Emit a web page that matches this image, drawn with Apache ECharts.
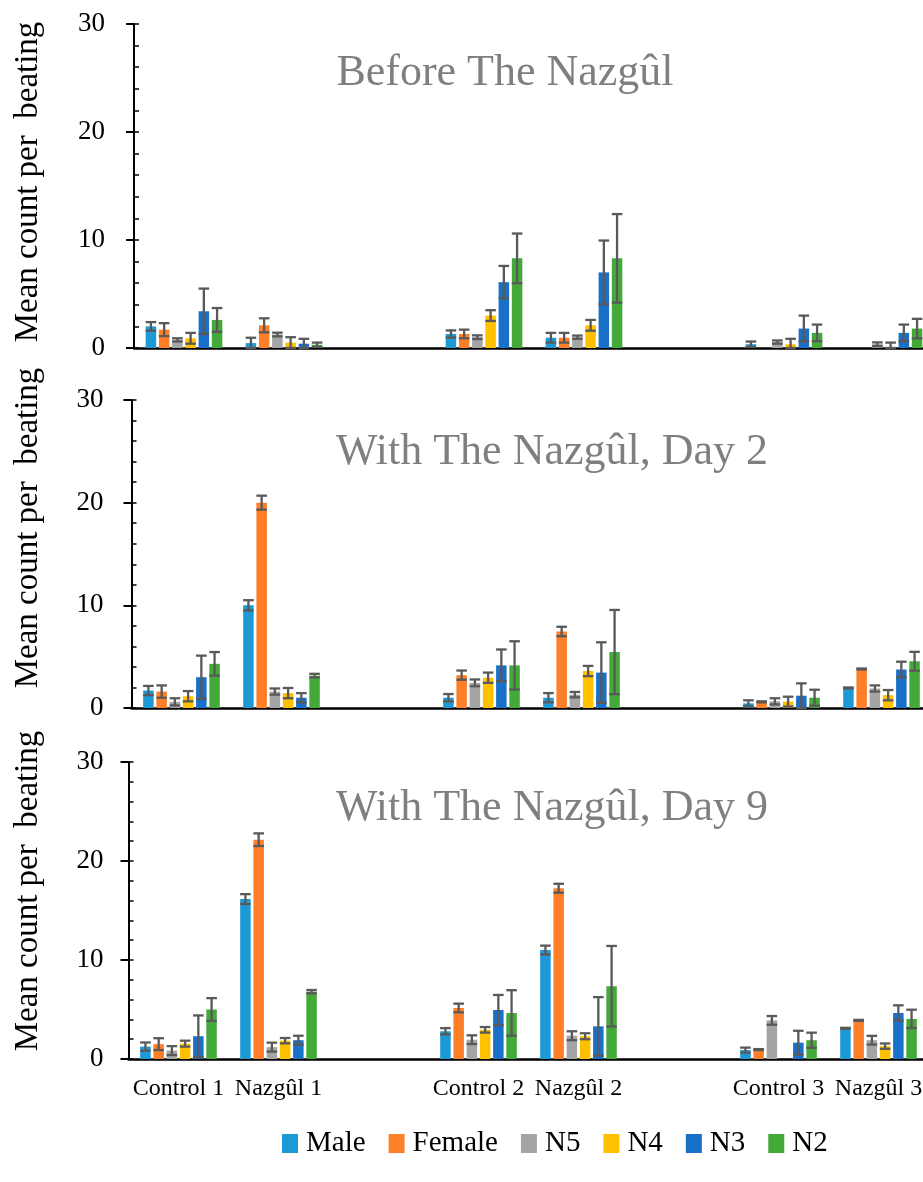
<!DOCTYPE html>
<html><head><meta charset="utf-8">
<script src="https://cdn.jsdelivr.net/npm/echarts@6/dist/echarts.min.js"></script>
<style>html,body{margin:0;padding:0;background:#fff;overflow:hidden}#c{width:923px;height:1182px}</style>
</head><body><div id="c"></div>
<script>
// ---------------- DATA ----------------
const groups = ['Control 1', 'Nazgûl 1', 'Control 2', 'Nazgûl 2', 'Control 3', 'Nazgûl 3'];
const seriesNames = ['Male', 'Female', 'N5', 'N4', 'N3', 'N2'];
const panelTitles = ['Before The Nazgûl', 'With The Nazgûl, Day 2', 'With The Nazgûl, Day 9'];
const yAxisTitle = 'Mean count per  beating';
const yMin = 0, yMax = 30, yStep = 10;

// Panel 1: Before
const beforeMale   = [2.0, 0.45, 1.3, 0.95, 0.35, 0];
const beforeFemale = [1.7, 2.1, 1.3, 0.95, 0, 0];
const beforeN5     = [0.75, 1.25, 1.0, 1.0, 0.55, 0.35];
const beforeN4     = [0.9, 0.5, 3.0, 2.1, 0.35, 0.1];
const beforeN3     = [3.4, 0.4, 6.1, 7.0, 1.8, 1.4];
const beforeN2     = [2.6, 0.3, 8.3, 8.3, 1.4, 1.8];
const beforeMaleErr   = [0.4, 0.5, 0.33, 0.45, 0.25, null];
const beforeFemaleErr = [0.6, 0.65, 0.4, 0.45, null, null];
const beforeN5Err     = [0.15, 0.17, 0.17, 0.15, 0.15, 0.17];
const beforeN4Err     = [0.5, 0.5, 0.5, 0.5, 0.5, 0.4];
const beforeN3Err     = [2.1, 0.45, 1.5, 2.95, 1.2, 0.77];
const beforeN2Err     = [1.1, 0.2, 2.3, 4.1, 0.77, 0.9];

// Panel 2: Day 2
const day2Male   = [1.7, 10.0, 1.0, 1.0, 0.45, 1.95];
const day2Female = [1.6, 20.0, 3.2, 7.45, 0.6, 3.8];
const day2N5     = [0.6, 1.6, 2.45, 1.3, 0.65, 1.9];
const day2N4     = [1.15, 1.45, 2.95, 3.6, 0.62, 1.25];
const day2N3     = [3.0, 1.0, 4.15, 3.45, 1.2, 3.75];
const day2N2     = [4.3, 3.15, 4.15, 5.45, 1.0, 4.55];
const day2MaleErr   = [0.45, 0.5, 0.36, 0.45, 0.3, 0.05];
const day2FemaleErr = [0.6, 0.68, 0.45, 0.46, 0.05, 0.05];
const day2N5Err     = [0.35, 0.3, 0.33, 0.26, 0.3, 0.3];
const day2N4Err     = [0.5, 0.5, 0.5, 0.5, 0.48, 0.5];
const day2N3Err     = [2.1, 0.45, 1.55, 2.95, 1.2, 0.76];
const day2N2Err     = [1.15, 0.18, 2.35, 4.1, 0.78, 0.92];

// Panel 3: Day 9
const day9Male   = [1.25, 16.15, 2.8, 11.0, 0.9, 3.1];
const day9Female = [1.5, 22.15, 5.15, 17.25, 0.95, 3.9];
const day9N5     = [0.85, 1.2, 1.95, 2.35, 3.9, 1.9];
const day9N4     = [1.55, 1.85, 2.95, 2.3, 0, 1.3];
const day9N3     = [2.3, 1.9, 4.95, 3.3, 1.65, 4.65];
const day9N2     = [5.0, 6.8, 4.65, 7.35, 1.9, 4.05];
const day9MaleErr   = [0.42, 0.5, 0.32, 0.45, 0.25, 0.05];
const day9FemaleErr = [0.6, 0.64, 0.44, 0.45, 0.05, 0.05];
const day9N5Err     = [0.45, 0.45, 0.44, 0.45, 0.44, 0.44];
const day9N4Err     = [0.3, 0.27, 0.28, 0.3, null, 0.27];
const day9N3Err     = [2.1, 0.45, 1.52, 2.95, 1.2, 0.77];
const day9N2Err     = [1.15, 0.17, 2.3, 4.07, 0.76, 0.93];

// ---------------- STYLE / LAYOUT ----------------
const FONT = '"Liberation Serif", "Times New Roman", serif';
const colors = ['#1D9AD6', '#FE7F27', '#A5A5A5', '#FFC000', '#1870C8', '#43AA3A'];
const BAR_W = 10.5, BAR_GAP = 0.26, PITCH = BAR_W * (1 + BAR_GAP);
const layouts = [
  {left: 134,   top: 24,  height: 324, labelMargin: 29, titleX: 505, titleY: 73,  nameX: 28, nameY: 182},
  {left: 131.5, top: 400, height: 308, labelMargin: 28, titleX: 552, titleY: 452, nameX: 28, nameY: 528},
  {left: 128.5, top: 762, height: 297, labelMargin: 25, titleX: 552, titleY: 808, nameX: 28, nameY: 891}
];
const means = [
  [beforeMale, beforeFemale, beforeN5, beforeN4, beforeN3, beforeN2],
  [day2Male, day2Female, day2N5, day2N4, day2N3, day2N2],
  [day9Male, day9Female, day9N5, day9N4, day9N3, day9N2]
];
const errs = [
  [beforeMaleErr, beforeFemaleErr, beforeN5Err, beforeN4Err, beforeN3Err, beforeN2Err],
  [day2MaleErr, day2FemaleErr, day2N5Err, day2N4Err, day2N3Err, day2N2Err],
  [day9MaleErr, day9FemaleErr, day9N5Err, day9N4Err, day9N3Err, day9N2Err]
];

// category axis with an empty spacer between each pair
const axisCats = [], slotOf = [];
groups.forEach((g, i) => { if (i > 0 && i % 2 === 0) axisCats.push(''); slotOf.push(axisCats.length); axisCats.push(g); });

const grid = [], xAxis = [], yAxis = [], series = [], graphic = [];
layouts.forEach((L, p) => {
  grid.push({left: L.left, top: L.top, height: L.height, width: 800, containLabel: false, outerBoundsMode: 'none'});
  xAxis.push({
    gridIndex: p, type: 'category', data: axisCats,
    axisLine: {lineStyle: {color: '#000', width: 2.5}},
    axisTick: {show: false},
    axisLabel: {show: p === 2, interval: 0, margin: 18, fontFamily: FONT, fontSize: 24, color: '#000'}
  });
  yAxis.push({
    gridIndex: p, type: 'value', min: yMin, max: yMax, interval: yStep, position: 'left',
    axisLine: {show: true, lineStyle: {color: '#000', width: 2}},
    axisTick: {show: true, inside: false, length: 8, lineStyle: {color: '#000', width: 2}},
    axisLabel: {margin: L.labelMargin, fontFamily: FONT, fontSize: 27, color: '#000'},
    splitLine: {show: false}
  });
  yAxis.push({
    gridIndex: p, type: 'value', min: yMin, max: yMax, interval: 2, position: 'left',
    axisLine: {show: false},
    axisTick: {show: true, inside: true, length: 5, lineStyle: {color: '#000', width: 1.5}},
    axisLabel: {show: false}, splitLine: {show: false}
  });
  seriesNames.forEach((name, s) => {
    series.push({
      type: 'bar', name, xAxisIndex: p, yAxisIndex: 2 * p,
      barWidth: BAR_W, barGap: (BAR_GAP * 100) + '%',
      itemStyle: {color: colors[s]},
      data: axisCats.map((_, k) => { const gi = slotOf.indexOf(k); return gi < 0 ? null : means[p][s][gi]; })
    });
  });
  const errData = [];
  seriesNames.forEach((_, s) => groups.forEach((g, gi) => {
    const e = errs[p][s][gi];
    if (e != null) errData.push([slotOf[gi], s, means[p][s][gi], e]);
  }));
  series.push({
    type: 'custom', xAxisIndex: p, yAxisIndex: 2 * p, z: 5, clip: false,
    encode: {x: 0, y: 2},
    data: errData,
    renderItem: (params, api) => {
      const cat = api.value(0), s = api.value(1), m = api.value(2), e = api.value(3);
      const hi = api.coord([cat, m + e]);
      const lo = api.coord([cat, Math.max(0, m - e)]);
      const x = hi[0] + (s - 2.5) * PITCH;
      const st = {stroke: '#595959', lineWidth: 2.3};
      return {type: 'group', children: [
        {type: 'line', shape: {x1: x, y1: hi[1], x2: x, y2: lo[1]}, style: st},
        {type: 'line', shape: {x1: x - 5.3, y1: hi[1], x2: x + 5.3, y2: hi[1]}, style: st},
        {type: 'line', shape: {x1: x - 5.3, y1: lo[1], x2: x + 5.3, y2: lo[1]}, style: st}
      ]};
    }
  });
  graphic.push({type: 'text', x: L.titleX, y: L.titleY, style: {
    text: panelTitles[p], fill: '#7F7F7F', font: '44px ' + FONT, textAlign: 'center', textVerticalAlign: 'middle'}});
  graphic.push({type: 'text', x: L.nameX, y: L.nameY, rotation: Math.PI / 2, style: {
    text: yAxisTitle, fill: '#000', font: '33px ' + FONT, textAlign: 'center', textVerticalAlign: 'middle'}});
});

const chart = echarts.init(document.getElementById('c'), null, {renderer: 'canvas'});
chart.setOption({
  backgroundColor: '#fff',
  animation: false,
  grid, xAxis, yAxis, series, graphic,
  legend: {
    data: seriesNames, left: 277, top: 1124, icon: 'rect',
    itemWidth: 16, itemHeight: 19, itemGap: 23,
    textStyle: {fontFamily: FONT, fontSize: 29, color: '#000', padding: [0, 0, 0, 3]}
  }
});
</script></body></html>
